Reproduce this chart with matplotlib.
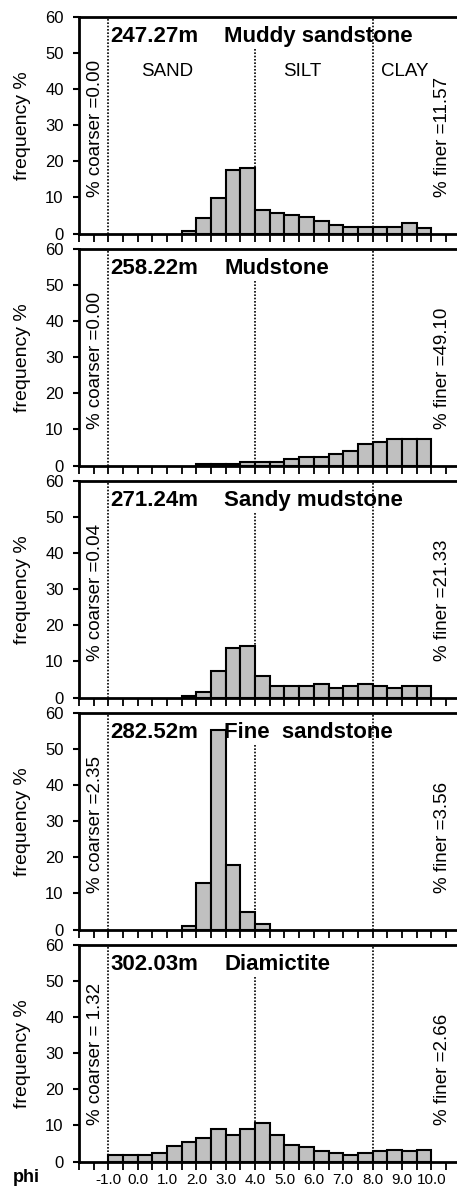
import matplotlib
matplotlib.use("Agg")
import matplotlib.pyplot as plt
import numpy as np

plt.rcParams['font.family'] = ['Liberation Sans', 'DejaVu Sans']

# half-phi bins, left edges from -1.0 to 9.5
bin_left = np.arange(-1.0, 10.0, 0.5)

depths = ["247.27m", "258.22m", "271.24m", "282.52m", "302.03m"]
names = ["Muddy sandstone", "Mudstone", "Sandy mudstone", "Fine  sandstone", "Diamictite"]
coarser = ["% coarser =0.00", "% coarser =0.00", "% coarser =0.04", "% coarser =2.35", "% coarser = 1.32"]
finer = ["% finer =11.57", "% finer =49.10", "% finer =21.33", "% finer =3.56", "% finer =2.66"]

freq_247 = [0, 0, 0, 0, 0, 0.7, 4.3, 9.7, 17.5, 18.2, 6.5, 5.7, 5.0, 4.7, 3.5, 2.4, 1.8, 1.8, 1.8, 1.8, 2.8, 1.6]
freq_258 = [0, 0, 0, 0, 0, 0, 0.5, 0.5, 0.5, 1.0, 1.0, 1.0, 1.7, 2.3, 2.3, 3.3, 3.9, 6.0, 6.5, 7.4, 7.4, 7.4]
freq_271 = [0, 0, 0, 0, 0, 0.5, 1.5, 7.4, 13.8, 14.3, 6.0, 3.1, 3.1, 3.1, 3.7, 2.7, 3.2, 3.8, 3.2, 2.7, 3.2, 3.2]
freq_282 = [0, 0, 0, 0, 0, 1.0, 12.9, 55.3, 17.8, 4.8, 1.4, 0, 0, 0, 0, 0, 0, 0, 0, 0, 0, 0]
freq_302 = [1.9, 1.9, 1.9, 2.4, 4.2, 5.5, 6.4, 9.1, 7.3, 9.1, 10.6, 7.3, 4.6, 4.1, 2.8, 2.3, 1.9, 2.3, 2.8, 3.1, 2.8, 3.1]
samples = [freq_247, freq_258, freq_271, freq_282, freq_302]

sizes = ["SAND", "SILT", "CLAY"]
size_x = [1.0, 5.6, 9.1]
boundaries = [-1.0, 4.0, 8.0]

W, H = 457, 1189
fig = plt.figure(figsize=(W / 100, H / 100), dpi=100)

x_ticks = np.arange(-2.0, 11.0, 0.5)
x_labels = ["%.1f" % t if (t >= -1 and t <= 10 and t == int(t)) else "" for t in x_ticks]

for i, freq in enumerate(samples):
    top = 17 + 232 * i
    ax = fig.add_axes([79 / W, 1 - (top + 216.5) / H, 381.6 / W, 216.5 / H])
    freq = np.array(freq)
    keep = freq > 0
    ax.bar(bin_left[keep], freq[keep], width=0.5, align='edge', color='#c0c0c0',
           edgecolor='black', linewidth=1.5, zorder=3)
    ax.set_xlim(-2, 11)
    ax.set_ylim(0, 60)
    ax.set_yticks(range(0, 61, 10))
    ax.set_xticks(x_ticks)
    if i == 4:
        ax.set_xticklabels(x_labels, fontsize=11)
    else:
        ax.set_xticklabels([])
    ax.tick_params(axis='x', direction='out', length=6, width=1.3, pad=2)
    ax.tick_params(axis='y', direction='out', length=4, width=1.5, pad=7, labelsize=12)
    for s in ax.spines.values():
        s.set_linewidth(2)
    ax.spines['right'].set_visible(False)

    ax.axvline(boundaries[0], color='black', linestyle=(0, (1, 1)), linewidth=1.2, zorder=4)
    ax.axvline(boundaries[2], color='black', linestyle=(0, (1, 1)), linewidth=1.2, zorder=4)
    ax.plot([boundaries[1]] * 2, [0, 51], color='black', linestyle=(0, (1, 1)), linewidth=1.2, zorder=4)

    ax.text(-0.93, 54.5, depths[i], fontsize=16, fontweight='bold', va='center', ha='left', zorder=5)
    ax.text(2.95, 54.5, names[i], fontsize=16, fontweight='bold', va='center', ha='left', zorder=5)
    ax.text(-1.45, 10, coarser[i], rotation=90, fontsize=13.5, ha='center', va='bottom')
    ax.text(10.4, 10, finer[i], rotation=90, fontsize=13.5, ha='center', va='bottom')
    ax.text(-0.149, 0.5, "frequency %", rotation=90, fontsize=14, ha='center', va='center',
            transform=ax.transAxes)
    if i == 0:
        for lab, xx in zip(sizes, size_x):
            ax.text(xx, 44.8, lab, fontsize=13.5, ha='center', va='center')

fig.text(13 / W, 1 - 1177 / H, "phi", fontsize=13, fontweight='bold', ha='left', va='center')

fig.savefig("out.png", dpi=100)
